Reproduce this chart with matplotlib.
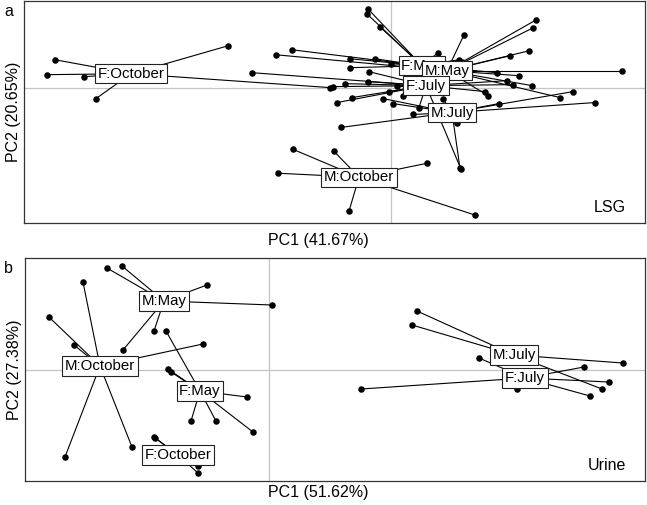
import matplotlib

matplotlib.use("Agg")
import matplotlib.pyplot as plt

plt.rcParams["font.family"] = ["Liberation Sans", "DejaVu Sans"]

# Panel a: LSG scores, group centroids and member samples
lsg_groups = ["F:October", "F:May", "M:May", "F:July", "M:July", "M:October"]
lsg_centroids = [
    (-2.60, 0.14), (0.31, 0.22), (0.56, 0.17),
    (0.35, 0.02), (0.61, -0.25), (-0.32, -0.90),
]
lsg_points = [
    [(-3.36, 0.28), (-3.44, 0.13), (-3.07, 0.11), (-2.95, -0.11), (-1.63, 0.42), (-0.61, 0.00)],
    [(-0.23, 0.79), (-0.24, 0.74), (-0.11, 0.61), (-0.99, 0.38), (-0.41, 0.29), (-0.16, 0.29),
     (0.00, 0.24), (0.47, 0.35), (1.06, 0.15), (-0.41, 0.20), (0.68, 0.28)],
    [(-1.15, 0.33), (0.73, 0.53), (1.45, 0.68), (1.42, 0.60), (1.38, 0.37), (1.19, 0.32),
     (2.31, 0.17), (1.28, 0.12), (1.41, 0.02), (0.97, -0.08), (1.69, -0.10), (0.71, 0.26)],
    [(-0.22, 0.16), (-1.39, 0.15), (-0.46, 0.04), (-0.23, 0.06), (-0.58, 0.01), (0.06, 0.02),
     (0.16, -0.01), (-0.39, -0.10), (-0.54, -0.15), (-0.02, -0.04), (0.12, -0.08),
     (0.28, -0.20), (1.16, 0.07), (1.22, 0.03), (0.94, -0.04), (0.70, -0.82)],
    [(1.82, -0.04), (2.04, -0.15), (1.08, -0.16), (0.52, -0.11), (0.66, -0.36), (-0.08, -0.11),
     (0.02, -0.16), (0.22, -0.27), (-0.50, -0.40), (0.69, -0.81)],
    [(-0.98, -0.62), (-0.57, -0.64), (-1.13, -0.86), (-0.42, -1.24), (0.36, -0.76), (0.84, -1.28)],
]

# Panel b: Urine scores
urine_groups = ["M:May", "M:October", "F:May", "F:October", "M:July", "F:July"]
urine_centroids = [
    (-1.05, 0.69), (-1.69, 0.04), (-0.69, -0.21),
    (-0.91, -0.85), (2.45, 0.15), (2.56, -0.08),
]
urine_points = [
    [(-1.62, 1.02), (-1.47, 1.04), (-0.62, 0.85), (0.03, 0.65), (-1.15, 0.39), (-1.46, 0.20)],
    [(-1.86, 0.88), (-2.20, 0.53), (-1.95, 0.25), (-0.66, 0.26), (-1.37, -0.77), (-2.04, -0.87)],
    [(-1.03, 0.39), (-1.01, 0.01), (-0.98, -0.02), (-0.22, -0.27), (-0.78, -0.51),
     (-0.53, -0.51), (-0.16, -0.62)],
    [(-1.15, -0.67), (-1.14, -0.68), (-0.71, -0.96), (-0.71, -1.03)],
    [(1.48, 0.59), (1.43, 0.45), (3.54, 0.07), (3.33, -0.19)],
    [(2.10, 0.12), (3.15, 0.03), (3.40, -0.12), (3.21, -0.26), (2.48, -0.19), (0.92, -0.19)],
]

panels = [
    ("a", "LSG", "PC1 (41.67%)", "PC2 (20.65%)", lsg_groups, lsg_centroids, lsg_points,
     (-3.67, 2.54), (-1.36, 0.87), 0.523),
    ("b", "Urine", "PC1 (51.62%)", "PC2 (27.38%)", urine_groups, urine_centroids, urine_points,
     (-2.44, 3.76), (-1.11, 1.12), 0.024),
]

fig = plt.figure(figsize=(6.47, 5.05), dpi=100)
axes = [
    fig.add_axes([0.0371, 0.5584, 0.9598, 0.4396]),
    fig.add_axes([0.0386, 0.0475, 0.9583, 0.4416]),
]

for ax, (letter, tag, xlab, ylab, groups, cents, pts, xlim, ylim, xlab_y) in zip(axes, panels):
    ax.axhline(0, color="#c4c4c4", lw=0.9, zorder=0)
    ax.axvline(0, color="#c4c4c4", lw=0.9, zorder=0)
    for name, (cx, cy), members in zip(groups, cents, pts):
        for px, py in members:
            ax.plot([cx, px], [cy, py], color="black", lw=0.8, zorder=1)
        ax.scatter([p[0] for p in members], [p[1] for p in members],
                   s=22, color="black", zorder=2, linewidths=0)
    for name, (cx, cy) in zip(groups, cents):
        ax.text(cx, cy, name, ha="center", va="center", fontsize=10.8, zorder=3,
                bbox=dict(boxstyle="square,pad=0.17", fc="white", ec="#222222", lw=0.8))
    ax.text(0.969, 0.05, tag, transform=ax.transAxes, ha="right", va="baseline", fontsize=11.5)
    ax.set_xlim(*xlim)
    ax.set_ylim(*ylim)
    ax.set_xticks([])
    ax.set_yticks([])
    ax.set_ylabel(ylab, fontsize=11.5, labelpad=2)
    for sp in ax.spines.values():
        sp.set_color("#333333")
        sp.set_linewidth(0.9)
    fig.text(318 / 647, xlab_y, xlab, fontsize=11.5, ha="center", va="center")
    fig.text(0.006, ax.get_position().y1 - 0.006, letter, fontsize=11.5, ha="left", va="top")

fig.savefig("out.png", dpi=100)
